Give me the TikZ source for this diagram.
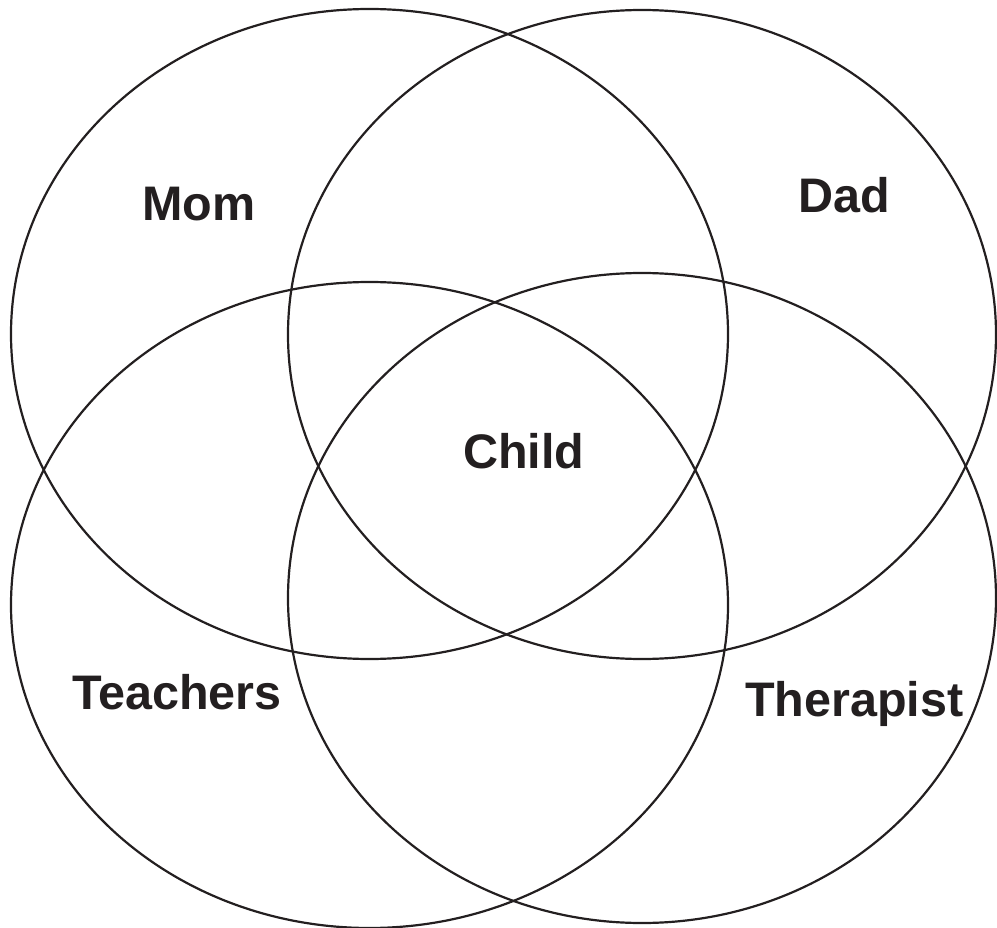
\documentclass[tikz,border=0pt]{standalone}
\usepackage{fontspec}
\setmainfont{Liberation Sans}
\definecolor{ink}{HTML}{231F20}
\begin{document}
\begin{tikzpicture}[x=1pt,y=-1pt,
  ring/.style={draw=ink,line width=2.2pt},
  lbl/.style={anchor=base west,inner sep=0pt,text=ink,font=\fontsize{48.5}{52}\selectfont\bfseries}]
\useasboundingbox (0,0) rectangle (997,928);
\begin{scope}
\clip (0,0) rectangle (997,928);
\draw[ring] (369.5,334) ellipse [x radius=358.5, y radius=325];
\draw[ring] (642,334.5) ellipse [x radius=354, y radius=324.5];
\draw[ring] (369.5,605) ellipse [x radius=358.5, y radius=323];
\draw[ring] (642,598) ellipse [x radius=354, y radius=325];
\end{scope}
\node[lbl] (mom) at (142,221) {Mom};
\node[lbl] (dad) at (798,213) {Dad};
\node[lbl] (child) at (463,468) {Child};
\node[lbl] (teachers) at (72,709) {Teachers};
\node[lbl] (therapist) at (745,716) {Therapist};
\end{tikzpicture}
\end{document}
